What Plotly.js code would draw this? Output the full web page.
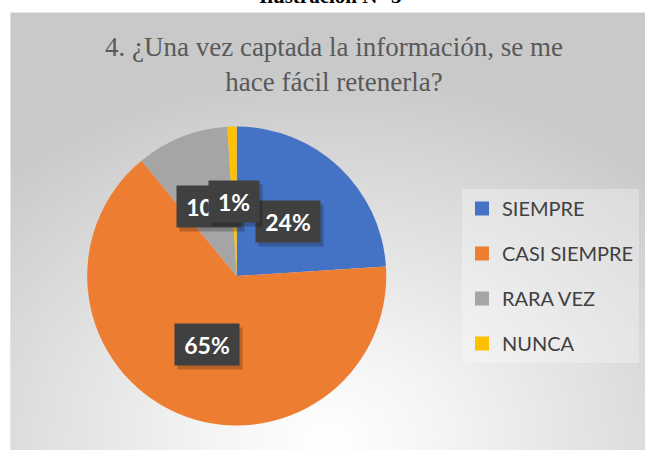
<!DOCTYPE html>
<html>
<head>
<meta charset="utf-8">
<script src="https://cdn.plot.ly/plotly-3.0.1.min.js"></script>
<style>
  html, body { margin: 0; padding: 0; background: #ffffff; }
  #wrap { position: relative; width: 645px; height: 450px; overflow: hidden; }
  #frame {
    position: absolute; left: 10px; top: 12px; width: 635px; height: 438px;
    box-sizing: border-box;
    border-top: 1px solid #e4e4e4; border-left: 1px solid #e4e4e4;
    background: radial-gradient(ellipse 75% 85% at 50% 98%, #ffffff 0%, #f4f4f4 25%, #e0e0e0 60%, #c9c9c9 100%);
  }
  #chart { position: absolute; left: 0; top: 0; width: 645px; height: 450px; }
</style>
</head>
<body>
<div id="wrap">
  <div id="frame"></div>
  <div id="chart"></div>
</div>
<script>
// ---- data ----
const categories = ['SIEMPRE', 'CASI SIEMPRE', 'RARA VEZ', 'NUNCA'];
const values = [24, 65, 10, 1];
const colors = ['#4472C4', '#ED7D31', '#A5A5A5', '#FFC000'];
const chartTitle = '4. ¿Una vez captada la información, se me<br>hace fácil retenerla?';
const captionText = 'Ilustración N° 5';

// ---- layout geometry ----
const W = 645, H = 450;
const pieDomain = { x: [0.1352, 0.5988], y: [0.0544, 0.7189] };

const traces = [{
  type: 'pie',
  labels: categories,
  values: values,
  sort: false,
  direction: 'clockwise',
  rotation: 0,
  domain: pieDomain,
  marker: { colors: colors, line: { width: 0 } },
  textinfo: 'none',
  hoverinfo: 'label+percent',
  showlegend: false
}];

// legend entries (one per category, spaced like the original)
categories.forEach((c, i) => {
  traces.push({
    type: 'scatter', mode: 'markers',
    x: [null], y: [null],
    name: c, legendgroup: 'g' + i,
    marker: { symbol: 'square', size: 14, color: colors[i], line: { width: 0 } },
    showlegend: true, hoverinfo: 'skip'
  });
});

// percentage labels placed at half radius along each slice's mid-angle
const total = values.reduce((a, b) => a + b, 0);
const cx = W * (pieDomain.x[0] + pieDomain.x[1]) / 2;
const cy = H * (1 - (pieDomain.y[0] + pieDomain.y[1]) / 2);
const r = Math.min(W * (pieDomain.x[1] - pieDomain.x[0]), H * (pieDomain.y[1] - pieDomain.y[0])) / 2;

const annotations = [{
  xref: 'paper', yref: 'paper', x: 330 / W, y: 1 - 10 / H,
  xanchor: 'center', yanchor: 'bottom', showarrow: false,
  text: '<b>' + captionText + '</b>',
  font: { family: 'Liberation Serif', size: 21, color: '#000000' }
}];

let cum = 0;
values.forEach((v, i) => {
  const mid = (cum + v / 2) / total * 2 * Math.PI;
  cum += v;
  const px = cx + 0.5 * r * Math.sin(mid);
  const py = cy - 0.5 * r * Math.cos(mid);
  const txt = Math.round(v / total * 100) + '%';
  const base = {
    xref: 'paper', yref: 'paper', x: px / W, y: 1 - py / H,
    xanchor: 'center', yanchor: 'middle', showarrow: false,
    width: 22 + 14 * txt.length, height: 41, borderpad: 0
  };
  annotations.push(Object.assign({}, base, {
    text: ' ', bgcolor: 'rgba(0,0,0,0.22)', xshift: 3, yshift: -4
  }));
  annotations.push(Object.assign({}, base, {
    text: txt,
    bgcolor: '#404040',
    font: { family: 'Lato', size: 23, color: '#ffffff', weight: 'bold' }
  }));
});

const layout = {
  width: W, height: H,
  margin: { l: 0, r: 0, t: 0, b: 0 },
  paper_bgcolor: 'rgba(0,0,0,0)',
  plot_bgcolor: 'rgba(0,0,0,0)',
  title: {
    text: chartTitle,
    font: { family: 'Liberation Serif', size: 27, color: '#595959' },
    x: 334 / W, xanchor: 'center',
    y: 1 - 56 / H, yanchor: 'top'
  },
  xaxis: { visible: false },
  yaxis: { visible: false },
  showlegend: true,
  legend: {
    x: 462 / W, y: 1 - 189 / H, xanchor: 'left', yanchor: 'top',
    bgcolor: 'rgba(255,255,255,0.3)',
    borderwidth: 0,
    tracegroupgap: 16,
    traceorder: 'grouped',
    itemclick: false, itemdoubleclick: false,
    font: { family: 'Lato', size: 20, color: '#404040' }
  },
  annotations: annotations
};

Plotly.newPlot('chart', traces, layout, { displayModeBar: false, staticPlot: true });
</script>
</body>
</html>
